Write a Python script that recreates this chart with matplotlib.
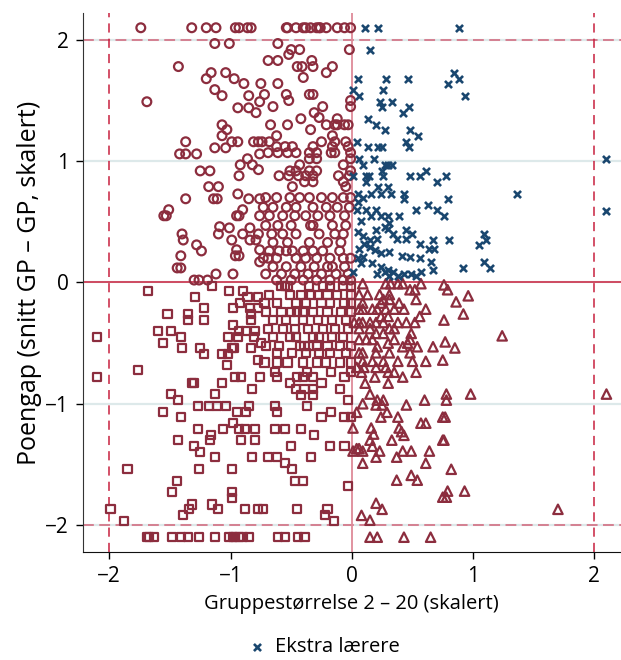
import numpy as np
import matplotlib.pyplot as plt

plt.rcParams['font.family'] = ['Open Sans', 'DejaVu Sans']

red = '#8c2d3e'
navy = '#1a476f'

# x > 0, y > 0 : ekstra lærere
kryss = np.array([
    (0.11, 2.1), (0.22, 2.1), (0.88, 2.1), (0.15, 1.92), (0.84, 1.73), (0.88, 1.68), (0.79, 1.64),
    (0.93, 1.54), (0.05, 1.68), (0.28, 1.68), (0.46, 1.68), (0.01, 1.59), (0.06, 1.54), (0.26, 1.59),
    (0.23, 1.49), (0.33, 1.49), (0.25, 1.45), (0.42, 1.40), (0.47, 1.45), (0.13, 1.35), (0.20, 1.30),
    (0.27, 1.26), (0.48, 1.26), (0.55, 1.21), (0.04, 1.16), (0.13, 1.12), (0.22, 1.12), (0.25, 1.12),
    (0.45, 1.16), (0.47, 1.12), (0.06, 1.02), (0.09, 0.97), (0.18, 1.02), (0.27, 0.97), (0.30, 0.97),
    (0.33, 0.97), (0.25, 0.92), (0.26, 0.88), (0.48, 0.88), (0.56, 0.88), (0.61, 0.92), (0.70, 0.83),
    (0.01, 0.88), (0.12, 0.88), (0.14, 0.88), (0.12, 0.83), (0.22, 0.79), (0.30, 0.79), (0.78, 0.88),
    (2.1, 1.02), (1.36, 0.73), (0.79, 0.69), (0.76, 0.55), (2.1, 0.59), (0.80, 0.35), (1.09, 0.40),
    (1.11, 0.35), (1.05, 0.31), (1.09, 0.17), (1.14, 0.12), (0.92, 0.12),
    (0.05, 0.73), (0.09, 0.70), (0.05, 0.66), (0.16, 0.73), (0.24, 0.73), (0.32, 0.73), (0.43, 0.73),
    (0.43, 0.69), (0.04, 0.60), (0.12, 0.60), (0.08, 0.51), (0.16, 0.55), (0.20, 0.60), (0.24, 0.55),
    (0.30, 0.55), (0.31, 0.49), (0.27, 0.46), (0.39, 0.55), (0.53, 0.60), (0.63, 0.64), (0.70, 0.60),
    (0.05, 0.42), (0.09, 0.38), (0.15, 0.35), (0.20, 0.43), (0.21, 0.36), (0.30, 0.44), (0.34, 0.40),
    (0.37, 0.36), (0.45, 0.43), (0.45, 0.36), (0.50, 0.40), (0.56, 0.32), (0.64, 0.28), (0.68, 0.28),
    (0.67, 0.35), (0.06, 0.28), (0.10, 0.32), (0.15, 0.29), (0.19, 0.27), (0.24, 0.24), (0.31, 0.25),
    (0.41, 0.22), (0.48, 0.21), (0.56, 0.20), (0.05, 0.20), (0.09, 0.21), (0.08, 0.16), (0.17, 0.16),
    (0.24, 0.13), (0.27, 0.09), (0.30, 0.10), (0.34, 0.09), (0.38, 0.05), (0.31, 0.05), (0.21, 0.07),
    (0.01, 0.09), (0.43, 0.07), (0.49, 0.07), (0.53, 0.05), (0.57, 0.09), (0.65, 0.17), (0.67, 0.10),
])

# x < 0, y > 0
sirkler = np.array([
    (-1.74, 2.1), (-1.32, 2.1), (-1.20, 2.1), (-1.12, 2.1), (-0.96, 2.1), (-0.93, 2.1), (-0.86, 2.1),
    (-0.83, 2.1), (-0.54, 2.1), (-0.53, 2.1), (-0.46, 2.1), (-0.40, 2.1), (-0.38, 2.1), (-0.34, 2.1),
    (-0.29, 2.1), (-0.27, 2.1), (-0.26, 2.1), (-0.21, 2.1), (-0.12, 2.1), (-0.06, 2.1), (-0.01, 2.1),
    (-1.13, 1.97), (-1.01, 1.97), (-1.43, 1.78), (-1.16, 1.73), (-1.20, 1.68), (-1.04, 1.73),
    (-0.97, 1.68), (-0.89, 1.64), (-0.75, 1.64), (-1.69, 1.49), (-1.13, 1.59), (-1.07, 1.54),
    (-0.85, 1.54), (-0.76, 1.49), (-0.94, 1.44), (-0.85, 1.44), (-0.79, 1.40), (-1.07, 1.30),
    (-1.03, 1.26), (-1.07, 1.21), (-1.37, 1.16), (-0.99, 1.16), (-0.94, 1.16), (-0.81, 1.16),
    (-0.77, 1.16), (-0.74, 1.16), (-1.13, 1.11), (-1.04, 1.11), (-1.42, 1.06), (-1.37, 1.06),
    (-1.28, 1.06), (-0.76, 1.06), (-0.86, 1.02), (-0.92, 0.97), (-0.82, 0.97), (-0.77, 0.93),
    (-1.25, 0.92), (-1.17, 0.92), (-0.93, 0.88), (-1.18, 0.79), (-1.10, 0.79),
    (-1.37, 0.69), (-1.14, 0.69), (-1.11, 0.69), (-0.94, 0.73), (-0.85, 0.69), (-0.76, 0.69),
    (-1.51, 0.60), (-1.55, 0.55), (-1.53, 0.55), (-0.90, 0.60), (-0.95, 0.55), (-0.93, 0.55),
    (-0.76, 0.55), (-1.09, 0.46), (-1.10, 0.40), (-1.01, 0.45), (-0.84, 0.45), (-0.90, 0.40),
    (-0.77, 0.40), (-1.40, 0.40), (-1.39, 0.35), (-0.99, 0.35), (-0.84, 0.35), (-0.79, 0.35),
    (-1.28, 0.31), (-1.24, 0.26), (-0.95, 0.27), (-0.96, 0.22), (-0.93, 0.22), (-0.76, 0.27),
    (-0.76, 0.17), (-1.41, 0.22), (-1.44, 0.12), (-1.41, 0.12), (-1.12, 0.07), (-0.98, 0.07),
    (-1.30, 0.02), (-1.26, 0.02), (-1.19, 0.02),
    (-0.61, 1.97), (-0.02, 1.92), (-0.52, 1.88), (-0.50, 1.92), (-0.43, 1.92), (-0.69, 1.83),
    (-0.61, 1.83), (-0.45, 1.78), (-0.41, 1.78), (-0.33, 1.83), (-0.32, 1.78), (-0.21, 1.73),
    (-0.16, 1.78), (-0.40, 1.69), (-0.61, 1.64), (-0.72, 1.55), (-0.54, 1.55), (-0.52, 1.50),
    (-0.35, 1.55), (-0.32, 1.55), (-0.65, 1.45), (-0.24, 1.45), (-0.01, 1.50), (-0.01, 1.45),
    (-0.31, 1.40), (-0.27, 1.36), (-0.42, 1.35), (-0.67, 1.30), (-0.53, 1.30), (-0.21, 1.30),
    (-0.14, 1.30), (-0.12, 1.35), (-0.12, 1.30), (-0.06, 1.30), (-0.03, 1.30), (-0.34, 1.26),
    (-0.62, 1.21), (-0.16, 1.21), (-0.68, 1.16), (-0.25, 1.16), (-0.14, 1.16), (-0.05, 1.16),
    (-0.62, 1.12), (-0.55, 1.12), (-0.49, 1.12), (-0.32, 1.12), (-0.16, 1.12), (-0.03, 1.12),
    (-0.69, 1.07), (-0.61, 1.07), (-0.53, 1.07), (-0.46, 1.07), (-0.35, 1.07), (-0.29, 1.07),
    (-0.17, 1.07), (-0.14, 1.07), (-0.01, 1.07), (-0.35, 1.02), (-0.29, 1.02), (-0.01, 1.02),
    (-0.43, 0.97), (-0.07, 0.97), (-0.51, 0.92), (-0.46, 0.92), (-0.35, 0.92), (-0.29, 0.92),
    (-0.01, 0.92), (-0.60, 0.88), (-0.52, 0.88), (-0.44, 0.88), (-0.38, 0.88), (-0.32, 0.88),
    (-0.11, 0.88), (-0.02, 0.88), (-0.49, 0.79), (-0.39, 0.83), (-0.32, 0.83), (-0.07, 0.83),
    (-0.05, 0.79),
    (-0.71, 0.70), (-0.62, 0.70), (-0.51, 0.70), (-0.43, 0.70), (-0.35, 0.70), (-0.25, 0.70),
    (-0.16, 0.70), (-0.07, 0.70), (-0.01, 0.70), (-0.73, 0.62), (-0.65, 0.62), (-0.54, 0.62),
    (-0.46, 0.62), (-0.32, 0.62), (-0.21, 0.62), (-0.12, 0.62), (-0.02, 0.62), (-0.68, 0.55),
    (-0.57, 0.55), (-0.47, 0.55), (-0.38, 0.55), (-0.28, 0.55), (-0.18, 0.55), (-0.06, 0.55),
    (-0.71, 0.47), (-0.61, 0.47), (-0.50, 0.47), (-0.34, 0.47), (-0.32, 0.47), (-0.16, 0.47),
    (-0.05, 0.47), (-0.66, 0.40), (-0.57, 0.40), (-0.46, 0.40), (-0.27, 0.40), (-0.14, 0.40),
    (-0.07, 0.40), (-0.65, 0.33), (-0.53, 0.33), (-0.35, 0.33), (-0.20, 0.33), (-0.09, 0.33),
    (-0.68, 0.26), (-0.60, 0.26), (-0.54, 0.26), (-0.49, 0.26), (-0.40, 0.26), (-0.32, 0.26),
    (-0.24, 0.26), (-0.10, 0.26), (-0.73, 0.20), (-0.69, 0.20), (-0.62, 0.20), (-0.46, 0.20),
    (-0.38, 0.20), (-0.29, 0.20), (-0.18, 0.20), (-0.07, 0.20), (-0.01, 0.20), (-0.65, 0.13),
    (-0.54, 0.13), (-0.42, 0.13), (-0.31, 0.13), (-0.20, 0.13), (-0.16, 0.13), (-0.06, 0.13),
    (-0.71, 0.07), (-0.58, 0.07), (-0.47, 0.07), (-0.36, 0.07), (-0.25, 0.07), (-0.13, 0.07),
    (-0.03, 0.07), (-0.62, 0.02), (-0.50, 0.02), (-0.40, 0.02), (-0.29, 0.02), (-0.18, 0.02),
    (-0.07, 0.02), (-0.01, 0.02),
])

# x < 0, y < 0
firkanter = np.array([
    (-1.15, -0.03), (-1.68, -0.07), (-1.29, -0.12), (-1.01, -0.07), (-0.90, -0.07), (-0.86, -0.12),
    (-0.77, -0.12), (-0.92, -0.17), (-1.22, -0.21), (-0.98, -0.21), (-0.84, -0.21), (-0.77, -0.21),
    (-1.52, -0.26), (-1.35, -0.26), (-1.35, -0.31), (-1.22, -0.31), (-0.83, -0.26), (-0.83, -0.31),
    (-0.98, -0.35), (-0.93, -0.40), (-0.87, -0.40), (-0.80, -0.40), (-1.60, -0.40), (-1.49, -0.40),
    (-2.10, -0.45), (-1.41, -0.45), (-1.02, -0.45), (-0.94, -0.45), (-0.81, -0.45), (-1.56, -0.50),
    (-1.40, -0.54), (-1.25, -0.54), (-1.22, -0.59), (-1.07, -0.59), (-1.02, -0.59), (-0.99, -0.54),
    (-0.97, -0.54), (-0.83, -0.54), (-0.75, -0.50), (-1.03, -0.68), (-0.77, -0.64), (-1.76, -0.72),
    (-2.10, -0.78), (-1.32, -0.83), (-1.30, -0.83), (-1.07, -0.83), (-0.96, -0.78), (-0.91, -0.78),
    (-0.76, -0.78), (-0.82, -0.88), (-1.49, -0.92), (-1.13, -0.92), (-1.43, -0.97), (-1.27, -1.02),
    (-1.18, -1.02), (-1.11, -1.02), (-1.04, -1.02), (-0.85, -1.02), (-1.56, -1.07), (-0.95, -1.07),
    (-0.87, -1.07), (-1.41, -1.11), (-0.98, -1.16), (-1.27, -1.21), (-1.06, -1.21), (-0.93, -1.21),
    (-0.88, -1.21), (-0.80, -1.21), (-1.16, -1.26), (-1.17, -1.30), (-1.43, -1.30), (-0.91, -1.30),
    (-0.80, -1.30), (-1.30, -1.35), (-1.25, -1.40), (-1.13, -1.44), (-0.82, -1.44), (-1.85, -1.54),
    (-1.26, -1.54), (-0.99, -1.54), (-1.44, -1.64), (-1.48, -1.73), (-0.99, -1.73), (-0.99, -1.78),
    (-1.99, -1.87), (-1.88, -1.97), (-1.32, -1.83), (-1.34, -1.87), (-1.39, -1.92), (-1.15, -1.83),
    (-1.10, -1.87), (-0.88, -1.87), (-0.77, -1.87),
    (-1.69, -2.1), (-1.67, -2.1), (-1.63, -2.1), (-1.48, -2.1), (-1.41, -2.1), (-1.35, -2.1),
    (-1.26, -2.1), (-1.13, -2.1), (-1.01, -2.1), (-0.98, -2.1), (-0.96, -2.1), (-0.93, -2.1),
    (-0.90, -2.1), (-0.85, -2.1), (-0.61, -2.1), (-0.55, -2.1), (-0.44, -2.1), (-0.39, -2.1),
    (-0.63, -0.74), (-0.62, -0.78), (-0.45, -0.78), (-0.40, -0.78), (-0.32, -0.78), (-0.37, -0.74),
    (-0.17, -0.74), (-0.06, -0.78), (-0.01, -0.74), (-0.51, -0.83), (-0.46, -0.88), (-0.39, -0.88),
    (-0.32, -0.88), (-0.25, -0.83), (-0.42, -0.93), (-0.32, -0.93), (-0.10, -0.88), (-0.03, -0.97),
    (-0.63, -1.02), (-0.62, -1.07), (-0.37, -1.02), (-0.17, -1.07), (-0.25, -1.11), (-0.06, -1.11),
    (-0.01, -1.11), (-0.63, -1.21), (-0.55, -1.21), (-0.42, -1.21), (-0.31, -1.26), (-0.50, -1.35),
    (-0.18, -1.35), (-0.06, -1.35), (-0.69, -1.44), (-0.62, -1.44), (-0.34, -1.44), (-0.55, -1.49),
    (-0.49, -1.54), (-0.47, -1.64), (-0.40, -1.64), (-0.03, -1.68), (-0.45, -1.87), (-0.20, -1.87),
    (-0.22, -1.92), (-0.15, -1.97), (-0.73, -1.87),
    (-0.58, -0.03), (-0.55, -0.03), (-0.53, -0.03), (-0.35, -0.03), (-0.24, -0.03), (-0.18, -0.03),
    (-0.07, -0.03), (-0.01, -0.03), (-0.68, -0.10), (-0.51, -0.10), (-0.42, -0.10), (-0.34, -0.10),
    (-0.28, -0.10), (-0.20, -0.10), (-0.12, -0.10), (-0.01, -0.10), (-0.72, -0.17), (-0.62, -0.17),
    (-0.46, -0.17), (-0.38, -0.17), (-0.25, -0.17), (-0.18, -0.17), (-0.06, -0.17), (-0.01, -0.17),
    (-0.71, -0.24), (-0.58, -0.24), (-0.50, -0.24), (-0.45, -0.24), (-0.40, -0.24), (-0.32, -0.24),
    (-0.20, -0.24), (-0.09, -0.24), (-0.01, -0.24), (-0.65, -0.31), (-0.54, -0.31), (-0.40, -0.31),
    (-0.28, -0.31), (-0.16, -0.31), (-0.05, -0.31), (-0.69, -0.38), (-0.57, -0.38), (-0.47, -0.38),
    (-0.36, -0.38), (-0.24, -0.38), (-0.14, -0.38), (-0.03, -0.38), (-0.65, -0.45), (-0.51, -0.45),
    (-0.46, -0.45), (-0.32, -0.45), (-0.27, -0.45), (-0.16, -0.45), (-0.07, -0.45), (-0.71, -0.52),
    (-0.60, -0.52), (-0.43, -0.52), (-0.39, -0.52), (-0.35, -0.52), (-0.29, -0.52), (-0.20, -0.52),
    (-0.10, -0.52), (-0.01, -0.52), (-0.62, -0.58), (-0.49, -0.58), (-0.38, -0.58), (-0.27, -0.58),
    (-0.18, -0.58), (-0.05, -0.58), (-0.72, -0.66), (-0.62, -0.66), (-0.53, -0.66), (-0.40, -0.66),
    (-0.29, -0.66), (-0.21, -0.66), (-0.10, -0.66), (-0.01, -0.66),
])

# x > 0, y < 0
trekanter = np.array([
    (0.76, -0.02), (0.79, -0.06), (0.86, -0.16), (0.96, -0.11), (0.92, -0.26), (0.76, -0.31),
    (1.24, -0.44), (0.77, -0.49), (0.85, -0.54), (0.75, -0.64),
    (0.08, -0.74), (0.19, -0.78), (0.30, -0.74), (0.35, -0.74), (0.42, -0.78), (0.53, -0.74),
    (0.30, -0.83), (0.11, -0.83), (0.15, -0.92), (0.21, -0.97), (0.26, -0.97), (0.09, -1.00),
    (0.20, -1.01), (0.25, -1.01), (0.45, -1.01), (0.60, -0.97), (0.04, -1.07), (0.29, -1.07),
    (0.24, -1.11), (0.38, -1.11), (0.57, -1.16), (0.61, -1.16), (0.75, -1.11), (0.01, -1.20),
    (0.16, -1.20), (0.39, -1.20), (0.41, -1.23), (0.43, -1.26), (0.18, -1.25), (0.33, -1.30),
    (0.15, -1.30), (0.04, -1.37), (0.06, -1.37), (0.09, -1.39), (0.01, -1.39), (0.17, -1.35),
    (0.23, -1.39), (0.20, -1.44), (0.42, -1.39), (0.49, -1.39), (0.64, -1.39), (0.37, -1.44),
    (0.09, -1.49), (0.61, -1.49), (0.75, -1.30), (0.37, -1.63), (0.49, -1.59), (0.54, -1.63),
    (0.75, -1.77), (0.20, -1.82), (0.25, -1.87), (0.08, -1.92), (0.15, -1.96),
    (0.15, -2.1), (0.21, -2.1), (0.43, -2.1), (0.65, -2.1),
    (0.78, -0.92), (0.78, -0.97), (0.98, -0.92), (2.1, -0.92), (0.77, -1.11), (0.76, -1.30),
    (0.82, -1.54), (0.79, -1.72), (0.78, -1.77), (0.93, -1.72), (1.70, -1.87),
    (0.09, -0.01), (0.28, -0.01), (0.32, -0.01), (0.38, -0.01), (0.42, -0.01), (0.57, -0.01),
    (0.48, -0.06), (0.52, -0.06), (0.06, -0.10), (0.13, -0.10), (0.23, -0.10), (0.31, -0.10),
    (0.26, -0.14), (0.31, -0.14), (0.53, -0.14), (0.09, -0.17), (0.24, -0.17), (0.39, -0.17),
    (0.06, -0.22), (0.09, -0.22), (0.17, -0.22), (0.21, -0.22), (0.28, -0.22), (0.35, -0.22),
    (0.43, -0.22), (0.61, -0.22), (0.24, -0.28), (0.30, -0.28), (0.56, -0.28), (0.02, -0.33),
    (0.06, -0.33), (0.09, -0.33), (0.15, -0.33), (0.20, -0.33), (0.26, -0.33), (0.38, -0.33),
    (0.45, -0.33), (0.52, -0.33), (0.06, -0.38), (0.15, -0.38), (0.31, -0.38), (0.35, -0.38),
    (0.20, -0.42), (0.26, -0.42), (0.49, -0.42), (0.06, -0.47), (0.12, -0.47), (0.17, -0.47),
    (0.35, -0.47), (0.48, -0.47), (0.30, -0.50), (0.46, -0.50), (0.21, -0.53), (0.42, -0.53),
    (0.54, -0.53), (0.67, -0.53), (0.06, -0.58), (0.09, -0.58), (0.20, -0.58), (0.31, -0.58),
    (0.48, -0.58), (0.09, -0.65), (0.17, -0.65), (0.26, -0.65), (0.38, -0.65), (0.50, -0.65),
    (0.61, -0.65), (0.04, -0.70), (0.10, -0.70), (0.20, -0.70), (0.28, -0.70),
])

fig = plt.figure(figsize=(6.21, 6.6), dpi=100)
ax = fig.add_axes([0.133, 0.164, 0.867, 0.816])

# grid og referanselinjer
for v in [-2, -1, 0, 1, 2]:
    ax.axhline(v, color='#dde9ea', lw=1.6, zorder=0)
ax.axhline(2, color='#d4788a', lw=1.3, ls=(0, (6, 3)), zorder=1)
ax.axhline(-2, color='#d4788a', lw=1.3, ls=(0, (6, 3)), zorder=1)
ax.axvline(-2, color='#c8203f', lw=1.1, ls=(0, (6, 4)), zorder=1)
ax.axvline(2, color='#c8203f', lw=1.1, ls=(0, (6, 4)), zorder=1)
ax.axvline(0, color='#de8a99', lw=1.3, zorder=1)
ax.axhline(0, color='#cc2f4a', lw=1.2, zorder=1)

ax.scatter(sirkler[:, 0], sirkler[:, 1], s=40, marker='o', facecolors='none',
           edgecolors=red, linewidths=1.6, zorder=3)
ax.scatter(firkanter[:, 0], firkanter[:, 1], s=34, marker='s', facecolors='none',
           edgecolors=red, linewidths=1.6, zorder=3)
ax.scatter(trekanter[:, 0], trekanter[:, 1], s=46, marker='^', facecolors='none',
           edgecolors=red, linewidths=1.6, zorder=3)
ax.scatter(kryss[:, 0], kryss[:, 1], s=26, marker='x', color=navy,
           linewidths=1.9, zorder=4, label='Ekstra lærere')

ax.set_xlim(-2.22, 2.22)
ax.set_ylim(-2.22, 2.22)
ax.set_xticks([-2, -1, 0, 1, 2])
ax.set_yticks([-2, -1, 0, 1, 2])
ax.set_xticklabels(['\u22122', '\u22121', '0', '1', '2'])
ax.set_yticklabels(['\u22122', '\u22121', '0', '1', '2'])
ax.tick_params(labelsize=15, length=5, width=1, direction='out', pad=5)
ax.spines['top'].set_visible(False)
ax.spines['right'].set_visible(False)
ax.spines['left'].set_color('#333333')
ax.spines['bottom'].set_color('#111111')

ax.set_xlabel('Gruppestørrelse 2 \u2013 20 (skalert)', fontsize=14.5, labelpad=5)
ax.set_ylabel('Poengap (snitt GP \u2013 GP, skalert)', fontsize=18)
ax.yaxis.set_label_coords(-0.076, 0.5)

fig.legend(loc='center', bbox_to_anchor=(0.521, 0.02), frameon=False,
           fontsize=14.5, handletextpad=0.4, handlelength=1.0)

plt.savefig('out.png', dpi=100)
